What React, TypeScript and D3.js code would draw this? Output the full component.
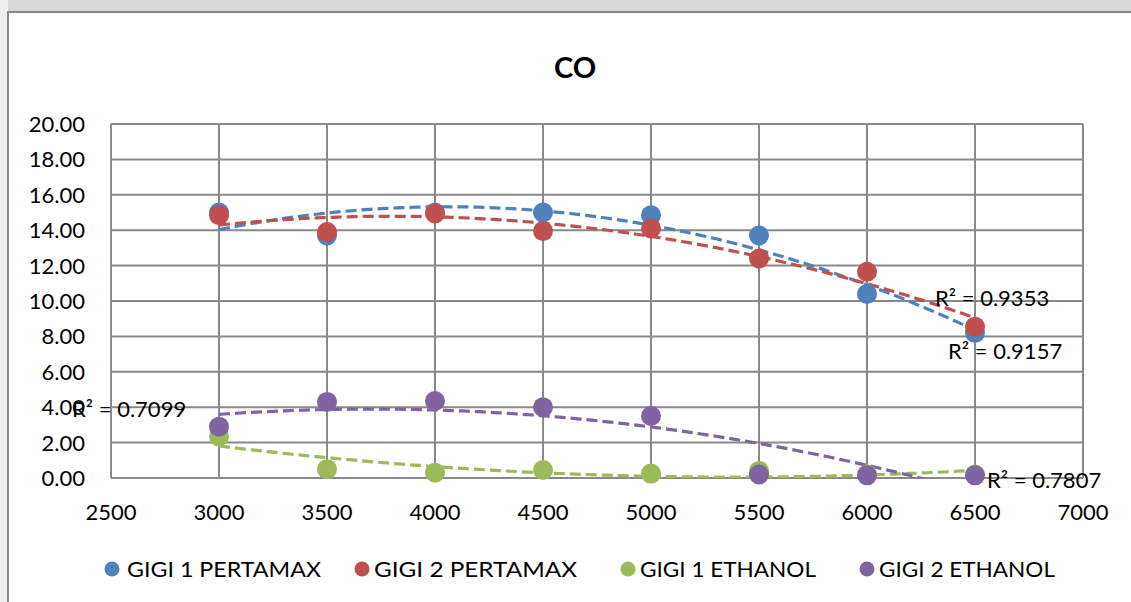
import React from "react";
import * as d3 from "d3";

const rpm = [3000, 3500, 4000, 4500, 5000, 5500, 6000, 6500];
const gigi1Pertamax = [15.0, 13.7, 15.0, 15.0, 14.85, 13.7, 10.4, 8.2];
const gigi2Pertamax = [14.85, 13.9, 14.95, 13.95, 14.1, 12.4, 11.65, 8.55];
const gigi1Ethanol = [2.35, 0.5, 0.3, 0.45, 0.25, 0.4, 0.2, 0.2];
const gigi2Ethanol = [2.9, 4.3, 4.35, 4.0, 3.5, 0.2, 0.15, 0.15];

const seriesNames = ["GIGI 1 PERTAMAX", "GIGI 2 PERTAMAX", "GIGI 1 ETHANOL", "GIGI 2 ETHANOL"];
const seriesColors = ["#4F81BD", "#C0504D", "#9BBB59", "#8064A2"];
const seriesValues = [gigi1Pertamax, gigi2Pertamax, gigi1Ethanol, gigi2Ethanol];

const xTicks = [2500, 3000, 3500, 4000, 4500, 5000, 5500, 6000, 6500, 7000];
const yTicks = [0, 2, 4, 6, 8, 10, 12, 14, 16, 18, 20];

const r2Labels = ["R² = 0.9157", "R² = 0.9353", "R² = 0.7099", "R² = 0.7807"];

function solve(A: number[][], b: number[]): number[] {
  const n = b.length;
  const M = A.map((row, i) => [...row, b[i]]);
  for (let c = 0; c < n; c++) {
    let p = c;
    for (let r = c + 1; r < n; r++) if (Math.abs(M[r][c]) > Math.abs(M[p][c])) p = r;
    [M[c], M[p]] = [M[p], M[c]];
    for (let r = 0; r < n; r++) {
      if (r === c) continue;
      const f = M[r][c] / M[c][c];
      for (let k = c; k <= n; k++) M[r][k] -= f * M[c][k];
    }
  }
  return M.map((row, i) => row[n] / row[i]);
}

function polyFit(xs: number[], ys: number[], order: number) {
  const xsS = xs.map((x) => x / 1000);
  const n = order + 1;
  const A = Array.from({ length: n }, () => new Array(n).fill(0));
  const b = new Array(n).fill(0);
  xsS.forEach((x, i) => {
    for (let r = 0; r < n; r++) {
      b[r] += ys[i] * Math.pow(x, r);
      for (let c = 0; c < n; c++) A[r][c] += Math.pow(x, r + c);
    }
  });
  const coef = solve(A, b);
  return (x: number) => coef.reduce((s, c, i) => s + c * Math.pow(x / 1000, i), 0);
}

export default function App() {
  const W = 1131;
  const H = 602;
  const left = 111;
  const right = 1083;
  const top = 124;
  const bottom = 478;
  const x = d3.scaleLinear().domain([2500, 7000]).range([left, right]);
  const y = d3.scaleLinear().domain([0, 20]).range([bottom, top]);
  const font = "Lato, 'Liberation Sans', sans-serif";

  const fits = seriesValues.map((v) => polyFit(rpm, v, 2));
  const samples = d3.range(3000, 6500.001, 25);

  const r2Pos = [
    { x: 948, y: 359 },
    { x: 935, y: 306 },
    { x: 72, y: 417 },
    { x: 987, y: 488 },
  ];
  const legendItems = [
    { cx: 112, tx: 127, w: 194 },
    { cx: 362, tx: 374, w: 203 },
    { cx: 628, tx: 640, w: 176 },
    { cx: 867, tx: 879, w: 176 },
  ];

  return (
    <svg width={W} height={H} style={{ position: "absolute", left: 0, top: 0 }}>
      <rect x={0} y={0} width={W} height={H} fill="#ffffff" />
      <rect x={0} y={0} width={W} height={12} fill="#d9d9d9" />
      <rect x={0} y={0} width={8} height={H} fill="#eeeeee" />
      <rect x={8} y={12} width={W + 10} height={H} fill="#ffffff" stroke="#898989" strokeWidth={2} />
      <defs>
        <clipPath id="plotClip">
          <rect x={left} y={top} width={right - left} height={bottom - top} />
        </clipPath>
      </defs>
      <text x={575} y={78} textAnchor="middle" fontFamily={font} fontWeight="bold" fontSize={29} fill="#000">
        CO
      </text>
      {yTicks.map((t) => (
        <line key={"gy" + t} x1={left} x2={right} y1={y(t)} y2={y(t)} stroke="#898989" strokeWidth={2} />
      ))}
      {xTicks.map((t) => (
        <line key={"gx" + t} x1={x(t)} x2={x(t)} y1={top} y2={bottom} stroke="#898989" strokeWidth={2} />
      ))}
      {yTicks.map((t) => (
        <text key={"ty" + t} x={85} y={y(t)} dy="0.36em" textAnchor="end" fontFamily={font} fontSize={22} fill="#000">
          {t.toFixed(2)}
        </text>
      ))}
      {xTicks.map((t) => (
        <text key={"tx" + t} x={x(t)} y={520} textAnchor="middle" fontFamily={font} fontSize={22} fill="#000">
          {t}
        </text>
      ))}
      <g clipPath="url(#plotClip)">
        {fits.map((f, i) => (
          <path
            key={"tl" + i}
            d={d3.line<number>().x((d) => x(d)).y((d) => y(f(d)))(samples) as string}
            fill="none"
            stroke={seriesColors[i]}
            strokeWidth={3.2}
            strokeDasharray="11,5"
          />
        ))}
      </g>
      {seriesValues.map((vals, i) =>
        vals.map((v, j) => (
          <circle key={"p" + i + "-" + j} cx={x(rpm[j])} cy={y(v)} r={10} fill={seriesColors[i]} />
        ))
      )}
      {r2Labels.map((l, i) => (
        <text key={"r2" + i} x={r2Pos[i].x} y={r2Pos[i].y} fontFamily={font} fontSize={22} fill="#000">
          {l}
        </text>
      ))}
      {legendItems.map((it, i) => (
        <g key={"lg" + i}>
          <circle cx={it.cx} cy={569} r={7.5} fill={seriesColors[i]} />
          <text x={it.tx} y={577} fontFamily={font} fontSize={21} textLength={it.w} lengthAdjust="spacingAndGlyphs" fill="#000">
            {seriesNames[i]}
          </text>
        </g>
      ))}
    </svg>
  );
}
